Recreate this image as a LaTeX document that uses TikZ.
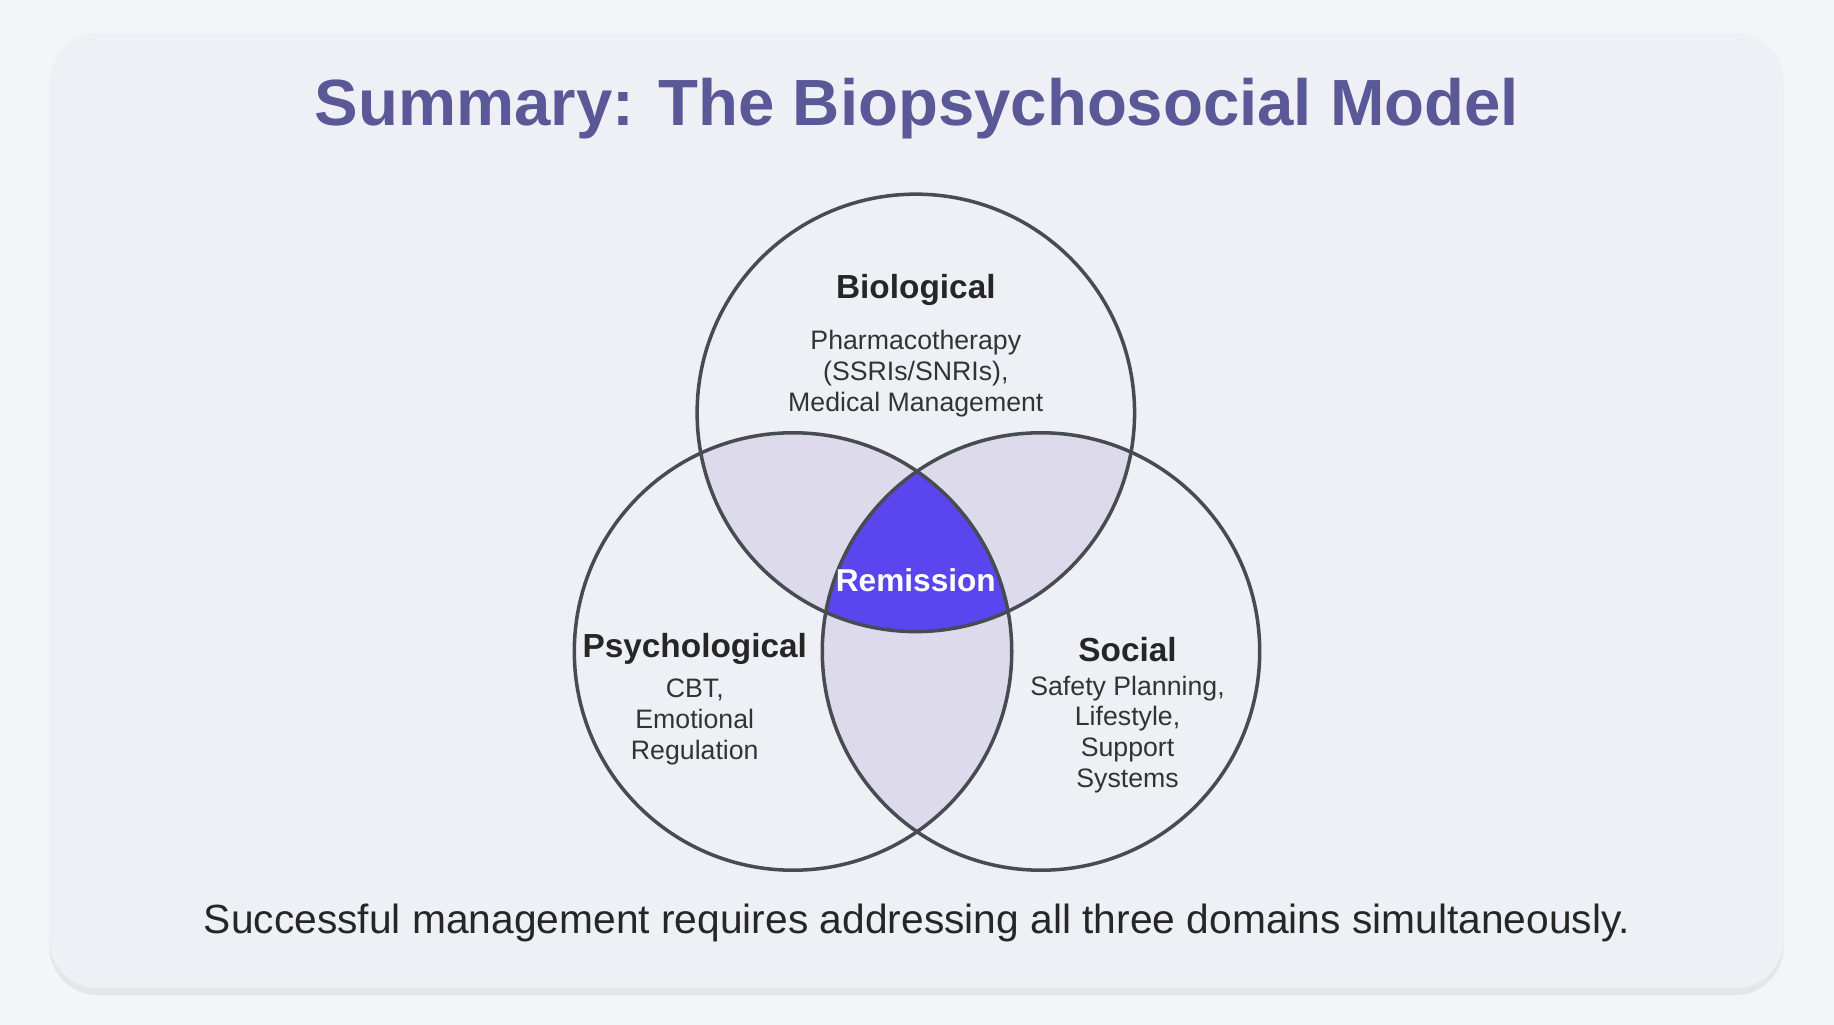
\documentclass[tikz,border=0pt]{standalone}
\usepackage{fontspec}
\setmainfont{Liberation Sans}
\usetikzlibrary{positioning,shadows}
\definecolor{pagebg}{HTML}{F4F5F7}
\definecolor{cardbg}{HTML}{EEF0F5}
\definecolor{titlecol}{HTML}{5A5896}
\definecolor{ringcol}{HTML}{474C52}
\definecolor{pairfill}{HTML}{DCDAEB}
\definecolor{corefill}{HTML}{5B45EE}
\tikzset{
  ring/.style={draw=ringcol, line width=1pt},
  head/.style={font=\fontsize{9.5}{11}\selectfont\bfseries, text=black!85},
  body/.style={font=\fontsize{7.6}{8.8}\selectfont, text=black!80, align=center},
}
\begin{document}
\begin{tikzpicture}[x=0.011696cm, y=-0.011696cm]
  \useasboundingbox (0,0) rectangle (1568,876);
  \fill[pagebg] (0,0) rectangle (1568,876);
  \fill[cardbg, rounded corners=14pt, drop shadow={opacity=0.12, shadow xshift=0pt, shadow yshift=-2pt}]
    (42,28) rectangle (1525,845);

  \node[font=\fontsize{18.6}{22}\selectfont\bfseries, text=titlecol] (title) at (784,93) {Summary: The Biopsychosocial Model};

  % pair overlaps
  \begin{scope}
    \clip (783,353) circle (187);
    \fill[pairfill] (678,557) circle (187);
    \fill[pairfill] (890,557) circle (187);
  \end{scope}
  \begin{scope}
    \clip (678,557) circle (187);
    \fill[pairfill] (890,557) circle (187);
  \end{scope}
  % triple overlap
  \begin{scope}
    \clip (783,353) circle (187);
    \clip (678,557) circle (187);
    \fill[corefill] (890,557) circle (187);
  \end{scope}

  \draw[ring] (783,353) circle (187);
  \draw[ring] (678,557) circle (187);
  \draw[ring] (890,557) circle (187);

  \node[head] (bio) at (783,248) {Biological};
  \node[body, below=0pt of bio] (biotext) {Pharmacotherapy\\(SSRIs/SNRIs),\\Medical Management};
  \node[head] (psy) at (594,555) {Psychological};
  \node[body, below=-3pt of psy] (psytext) {CBT,\\Emotional\\Regulation};
  \node[head] (soc) at (964,555) {Social};
  \node[body, below=-3pt of soc] (soctext) {Safety Planning,\\Lifestyle,\\Support\\Systems};
  \node[font=\fontsize{9}{11}\selectfont\bfseries, text=white] (core) at (783,496) {Remission};

  \node[font=\fontsize{11.6}{14}\selectfont, text=black!85] (caption) at (784,789) {Successful management requires addressing all three domains simultaneously.};
\end{tikzpicture}
\end{document}
